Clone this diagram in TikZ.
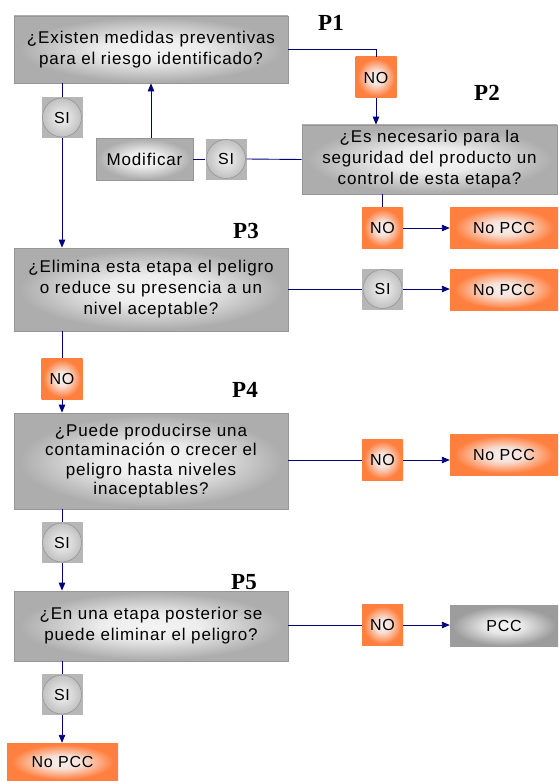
\documentclass[tikz,border=0pt]{standalone}
\usepackage{fontspec}
\setmainfont{Liberation Sans}[LetterSpace=5]
\newfontfamily\pfont{Liberation Serif}
\usetikzlibrary{arrows.meta}
\definecolor{linea}{HTML}{000080}
\definecolor{grisbox}{HTML}{ADADAD}
\definecolor{grisclaro}{HTML}{F4F4F4}
\definecolor{bordegris}{HTML}{969696}
\definecolor{naranja}{HTML}{FF7F3F}
\definecolor{blanconar}{HTML}{F6F1F0}
\definecolor{grispcc}{HTML}{9C9C9C}
\definecolor{grissi}{HTML}{B6B6B6}
\definecolor{circext}{HTML}{BEBEBE}
\pgfdeclareradialshading{ovalogris}{\pgfpoint{0bp}{0bp}}{color(0bp)=(grisclaro); color(9bp)=(grisclaro!90!grisbox); color(24bp)=(grisbox); color(50bp)=(grisbox)}
\pgfdeclareradialshading{ovalonar}{\pgfpoint{0bp}{0bp}}{color(0bp)=(blanconar); color(9bp)=(blanconar!85!naranja); color(23bp)=(naranja); color(50bp)=(naranja)}
\pgfdeclareradialshading{ovalopcc}{\pgfpoint{0bp}{0bp}}{color(0bp)=(grisclaro); color(9bp)=(grisclaro!85!grispcc); color(24bp)=(grispcc); color(50bp)=(grispcc)}
\tikzset{
  pregunta/.style={draw=bordegris, line width=0.8pt, shading=ovalogris,
    minimum width=274, inner sep=0pt, align=center, font=\fontsize{17}{21}\selectfont},
  nosi/.style={inner sep=0pt, minimum size=41, font=\fontsize{16}{18}\selectfont},
  nobox/.style={nosi, shading=ovalonar},
  sibox/.style={nosi, fill=grissi,
    path picture={\shade[inner color=grisclaro, outer color=circext]
      (path picture bounding box.center) circle (19.5pt);
      \draw[bordegris, line width=0.6pt] (path picture bounding box.center) circle (19.5pt);}},
  final/.style={inner sep=0pt, minimum width=108, minimum height=41, font=\fontsize{16}{18}\selectfont},
  nopcc/.style={final, shading=ovalonar},
  pcc/.style={final, shading=ovalopcc},
  etiq/.style={inner sep=0pt, font=\pfont\bfseries\fontsize{23}{23}\selectfont},
  flujo/.style={draw=linea, line width=0.9pt},
  flecha/.style={flujo, -{Triangle[length=8pt,width=6.5pt]}}
}
\begin{document}
\begin{tikzpicture}[x=1pt,y=-1pt]
  \useasboundingbox (0,0) rectangle (558,781);
  \node[pregunta, minimum height=67] (p1) at (151,49.5) {¿Existen medidas preventivas\\para el riesgo identificado?};
  \node[pregunta, minimum width=255, minimum height=69] (p2) at (429.5,159.5) {¿Es necesario para la\\seguridad del producto un\\control de esta etapa?};
  \node[pregunta, minimum height=83] (p3) at (151,289.5) {¿Elimina esta etapa el peligro\\o reduce su presencia a un\\nivel aceptable?};
  \node[pregunta, minimum height=96, font=\fontsize{17}{19.5}\selectfont] (p4) at (151,461) {¿Puede producirse una\\contaminación o crecer el\\peligro hasta niveles\\inaceptables?};
  \node[pregunta, minimum height=70] (p5) at (151,626) {¿En una etapa posterior se\\puede eliminar el peligro?};
  \node[pregunta, minimum width=97, minimum height=42] (mod) at (144.5,159) {Modificar};

  \node[etiq] (e1) at (331,23) {P1};
  \node[etiq] (e2) at (487,93) {P2};
  \node[etiq] (e3) at (246,231) {P3};
  \node[etiq] (e4) at (245,390) {P4};
  \node[etiq] (e5) at (244,582) {P5};

  \node[sibox] (si1) at (62,117.5) {SI};
  \node[sibox] (si2) at (226,159) {SI};
  \node[sibox] (si3) at (382.5,289) {SI};
  \node[sibox] (si4) at (62,542.5) {SI};
  \node[sibox] (si5) at (62,694.5) {SI};

  \node[nobox] (no1) at (376,77.5) {NO};
  \node[nobox] (no2) at (382.5,228) {NO};
  \node[nobox] (no3) at (62,378.5) {NO};
  \node[nobox] (no4) at (382.5,460) {NO};
  \node[nobox] (no5) at (382.5,625) {NO};

  \node[nopcc] (f1) at (504,227.5) {No PCC};
  \node[nopcc] (f2) at (504,289.5) {No PCC};
  \node[nopcc] (f3) at (504,454.5) {No PCC};
  \node[pcc] (f4) at (504,626) {PCC};
  \node[nopcc, minimum width=111, minimum height=38] (f5) at (62.5,762) {No PCC};

  \path[flujo] (p1.east) -| (no1.north);
  \path[flecha] (no1.south) -- (no1.south |- p2.north);
  \path[flujo] (si1 |- p1.south) -- (si1.north);
  \path[flecha] (si1.south) -- (si1 |- p3.north);
  \path[flujo] (p2.west) -- (si2.east);
  \path[flujo] (si2.west) -- (mod.east);
  \path[flecha] (mod.north -| p1.south) -- (p1.south);
  \path[flujo] (no2 |- p2.south) -- (no2.north);
  \path[flecha] (no2.east) -- (f1.west |- no2.east);
  \path[flujo] (p3.east |- si3) -- (si3.west);
  \path[flecha] (si3.east) -- (f2.west |- si3.east);
  \path[flujo] (no3 |- p3.south) -- (no3.north);
  \path[flecha] (no3.south) -- (no3 |- p4.north);
  \path[flujo] (p4.east |- no4) -- (no4.west);
  \path[flecha] (no4.east) -- (f3.west |- no4.east);
  \path[flujo] (si4 |- p4.south) -- (si4.north);
  \path[flecha] (si4.south) -- (si4 |- p5.north);
  \path[flujo] (p5.east |- no5) -- (no5.west);
  \path[flecha] (no5.east) -- (f4.west |- no5.east);
  \path[flujo] (si5 |- p5.south) -- (si5.north);
  \path[flecha] (si5.south) -- (si5 |- f5.north);
\end{tikzpicture}
\end{document}
